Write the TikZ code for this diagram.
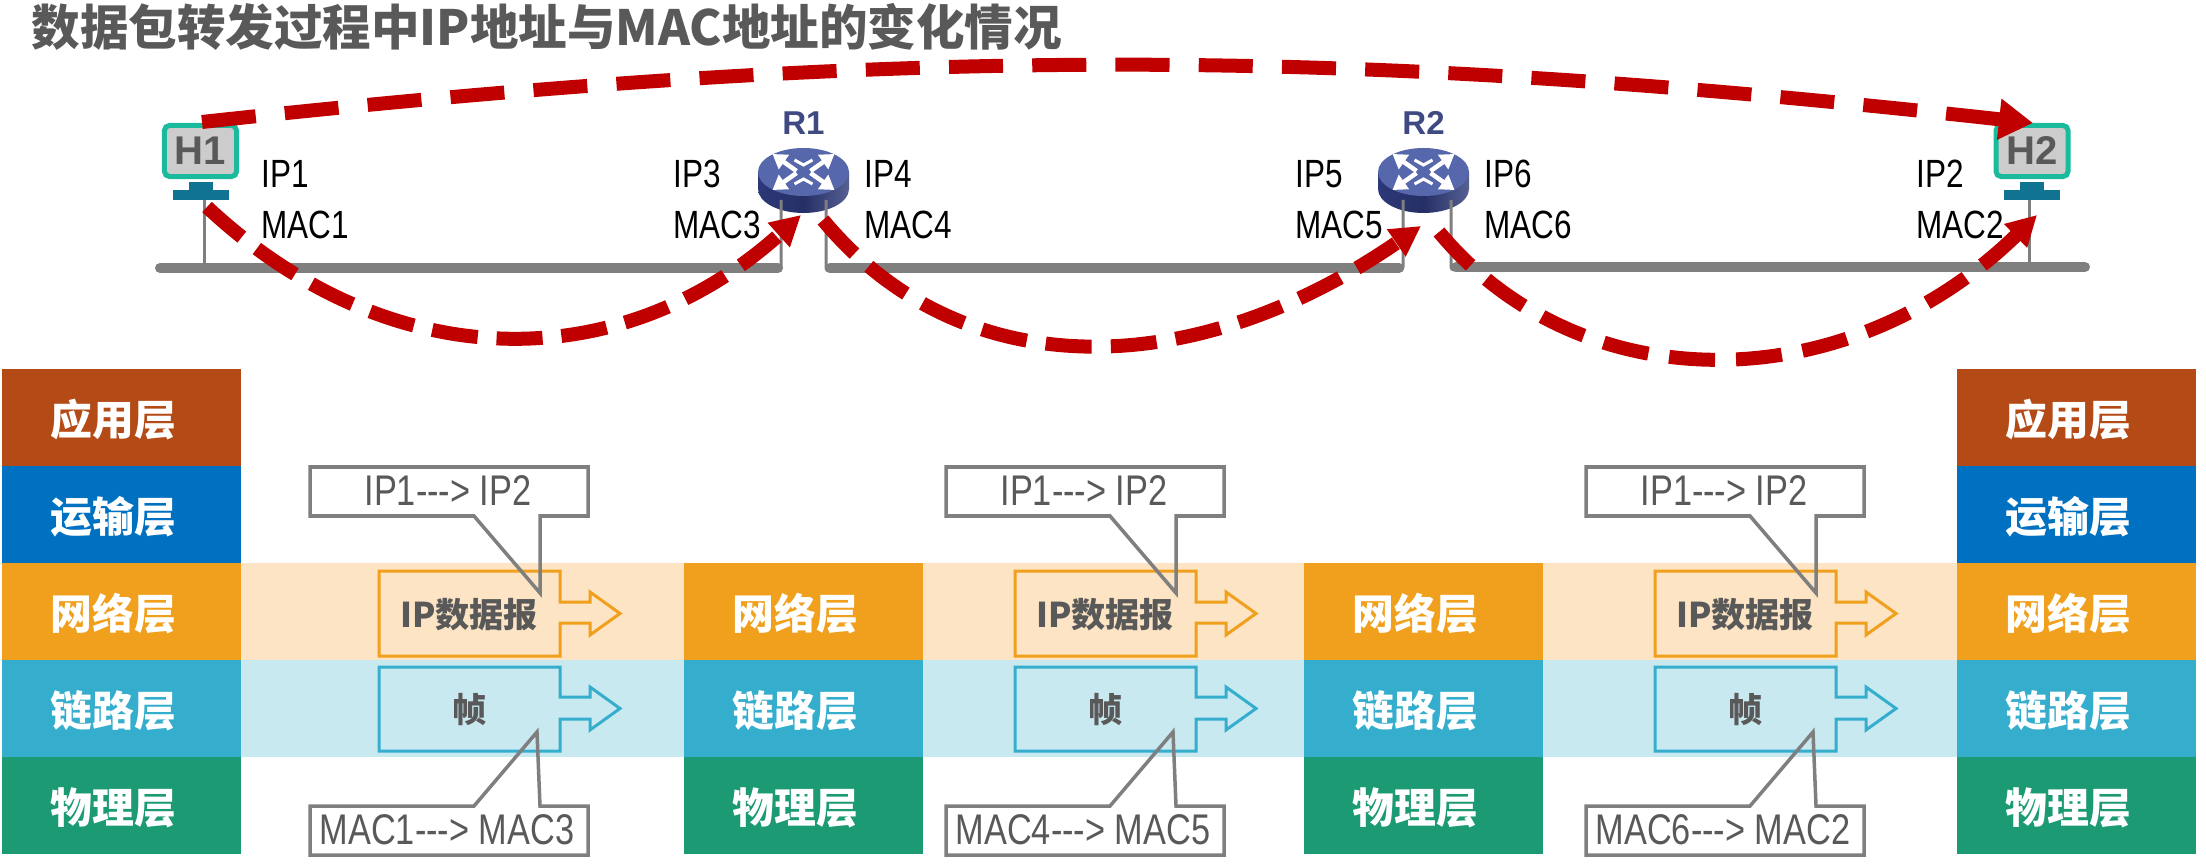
\documentclass[tikz,border=0pt]{standalone}
\usepackage{fontspec}
\usepackage{tikz}
\usetikzlibrary{arrows.meta,positioning}
\newfontfamily\cjkfont{Noto Sans CJK SC}
\newfontfamily\addrfont[FakeStretch=0.8]{Liberation Sans}
\newfontfamily\hostfont{Liberation Sans}
\definecolor{appcol}{HTML}{B44A16}
\definecolor{transcol}{HTML}{0070C0}
\definecolor{netcol}{HTML}{F0A01C}
\definecolor{linkcol}{HTML}{35AECE}
\definecolor{physcol}{HTML}{1C9A74}
\definecolor{netband}{HTML}{FCE4C4}
\definecolor{linkband}{HTML}{C9E9F1}
\definecolor{hostcol}{HTML}{1ABB9C}
\definecolor{footcol}{HTML}{0F7391}
\definecolor{routertop}{HTML}{5767AC}
\definecolor{routerside}{HTML}{2C3878}
\definecolor{routername}{HTML}{3F4A82}
\definecolor{pathcol}{HTML}{C00000}
\definecolor{tagcol}{HTML}{7F7F7F}
\definecolor{txtcol}{HTML}{595959}

\begin{document}
\begin{tikzpicture}[
  x=0.01cm, y=-0.01cm,
  node distance=0cm,
  layer/.style={rectangle, minimum width=2.39cm, minimum height=0.97cm, inner sep=0pt, outer sep=0pt, text=white,
    text height=0.35cm, text depth=0cm,
    font=\cjkfont\bfseries\fontsize{11.9pt}{12pt}\selectfont, execute at end node={\kern0.16cm}},
  host/.style={rectangle, rounded corners=0.05cm, draw=hostcol, line width=0.05cm, fill=black!20, inner sep=0pt,
    minimum width=0.72cm, minimum height=0.51cm, text=black!65, font=\hostfont\bfseries\fontsize{11.4pt}{12pt}\selectfont},
  rname/.style={text=routername, inner sep=0pt, font=\hostfont\bfseries\fontsize{9.4pt}{10pt}\selectfont},
  addr/.style={anchor=west, inner sep=0pt, font=\addrfont\fontsize{11.2pt}{12pt}\selectfont},
  tagtxt/.style={inner sep=0pt, text=txtcol, font=\addrfont\fontsize{12.2pt}{13pt}\selectfont},
  tagline/.style={draw=tagcol, line width=0.035cm, line join=miter},
  pdu/.style={line width=0.03cm, line join=miter},
  pdutxt/.style={inner sep=0pt, text=txtcol, font=\cjkfont\bfseries\fontsize{9.7pt}{10pt}\selectfont},
  wire/.style={draw=tagcol, line width=0.03cm, rounded corners=0.03cm},
  bus/.style={draw=tagcol, line width=0.1cm, line cap=round},
  hop/.style={draw=pathcol, line width=0.14cm, -{Triangle[length=0.3cm,width=0.31cm]}},
  longhop/.style={draw=pathcol, line width=0.14cm, -{Triangle[length=0.34cm,width=0.39cm]}}]
\useasboundingbox (0,0) rectangle (2206,864);

\node[anchor=north west, inner sep=0pt, text=txtcol, font=\cjkfont\bfseries\fontsize{13.8pt}{14pt}\selectfont] (title) at (31,3) {数据包转发过程中IP地址与MAC地址的变化情况};

% bands behind the stacks
\fill[netband] (241,563) rectangle (1957,660);
\fill[linkband] (241,660) rectangle (1957,757);

% stacks
\node[layer, fill=appcol, anchor=north west] (la) at (2,369) {应用层};
\node[layer, fill=transcol, below=of la] (lb) {运输层};
\node[layer, fill=netcol, below=of lb] (lc) {网络层};
\node[layer, fill=linkcol, below=of lc] (ld) {链路层};
\node[layer, fill=physcol, below=of ld] (le) {物理层};
\node[layer, fill=appcol, anchor=north west] (ra) at (1957,369) {应用层};
\node[layer, fill=transcol, below=of ra] (rb) {运输层};
\node[layer, fill=netcol, below=of rb] (rc) {网络层};
\node[layer, fill=linkcol, below=of rc] (rd) {链路层};
\node[layer, fill=physcol, below=of rd] (re) {物理层};
\foreach \s/\x in {m/684,n/1304} {
  \node[layer, fill=netcol, anchor=north west] (\s c) at (\x,563) {网络层};
  \node[layer, fill=linkcol, below=of \s c] (\s d) {链路层};
  \node[layer, fill=physcol, below=of \s d] (\s e) {物理层};
}

% buses and wires
\draw[bus] (160,268) -- (778,268);
\draw[bus] (830,268) -- (1399,268);
\draw[bus] (1456,267) -- (2085,267);

% routers
\foreach \r/\x in {R1/803.5,R2/1423.5} {
  \begin{scope}[shift={(\x,0)}]
    \path[left color=routerside, right color=routerside!80!white, middle color=routerside!85!black]
      (-45.5,172) -- (-45.5,189) arc[start angle=180, end angle=0, x radius=45.5, y radius=24] -- (45.5,172) -- cycle;
    \fill[routertop] (0,172) ellipse[x radius=45.5, y radius=24];
    \foreach \sx/\sy in {-1/-1,1/-1,-1/1,1/1}
      \draw[white, line width=0.045cm, -{Triangle[length=0.14cm,width=0.17cm]}] (\sx*7,172+\sy*1) -- (\sx*31,172+\sy*18);
    \draw[white, line width=0.03cm] (-9,160) -- (0,165) -- (9,160) (-9,184) -- (0,179) -- (9,184);
  \end{scope}
  \node[rname] (\r) at (\x,123) {\r};
}
\draw[wire] (781,200) -- (781,271) -- (770,271);
\draw[wire] (826,200) -- (826,271) -- (838,271);
\draw[wire] (1403,200) -- (1403,270) -- (1392,270);
\draw[wire] (1451,200) -- (1451,270) -- (1463,270);

% hosts
\foreach \h/\x in {H1/200.5, H2/2032} {
  \node[host] (\h) at (\x,151) {\h};
  \fill[footcol] (\x-12,182) rectangle (\x+12,191);
  \fill[footcol] (\x-28,190) rectangle (\x+28,200);
}
\draw[wire] (204,200) -- (204,265);
\draw[wire] (2029,200) -- (2029,262);

% addresses
\foreach \i/\x/\n in {ipa/261/1, ipb/673/3, ipc/864/4, ipd/1295/5, ipe/1484/6, ipf/1916/2} {
  \node[addr] (\i) at (\x,174) {IP\n};
  \node[addr] (\i m) at (\x,225) {MAC\n};
}

% pdus and tags
\foreach \s/\x/\a/\b/\c/\d in {a/0/1/3/1/2, b/636/4/5/1/2, c/1276/6/2/1/2} {
  \begin{scope}[shift={(\x,0)}]
    \draw[pdu, draw=netcol] (379,571) -- (560,571) -- (560,602) -- (590,602) -- (590,592) -- (620,613.5) -- (590,635) -- (590,623) -- (560,623) -- (560,656) -- (379,656) -- cycle;
    \draw[pdu, draw=linkcol] (379,667) -- (560,667) -- (560,697) -- (590,697) -- (590,687) -- (620,708.5) -- (590,730) -- (590,719) -- (560,719) -- (560,751) -- (379,751) -- cycle;
    \node[pdutxt] (ippkt\s) at (469,615) {IP数据报};
    \node[pdutxt] (frame\s) at (470,710) {帧};
    \draw[tagline] (474,516) -- (310,516) -- (310,467) -- (588,467) -- (588,516) -- (540,516) -- (540,593) -- cycle;
    \draw[tagline] (474,806) -- (310,806) -- (310,855) -- (588,855) -- (588,806) -- (540,806) -- (537,732) -- cycle;
    \node[tagtxt] (iptag\s) at (448,491) {IP\c-{}-{}-> IP\d};
    \node[tagtxt] (mactag\s) at (447,830) {MAC\a-{}-{}-> MAC\b};
  \end{scope}
}

% hops
\coordinate (hostout) at (202,122);
\coordinate (hostin) at (2033,123);
\coordinate (h1port) at (207,207);
\coordinate (r1in) at (801,215);
\coordinate (r1out) at (823,220);
\coordinate (r2in) at (1421,226);
\coordinate (r2out) at (1439,232);
\coordinate (h2port) at (2037,215);
\draw[longhop, dash pattern=on 0.54cm off 0.292cm] (hostout) .. controls (900,46) and (1335,46) .. (hostin);
\draw[hop, dash pattern=on 0.46cm off 0.189cm] (h1port) .. controls (390,378) and (620,378) .. (r1in);
\draw[hop, dash pattern=on 0.46cm off 0.192cm] (r1out) .. controls (960,385) and (1190,385) .. (r2in);
\draw[hop, dash pattern=on 0.46cm off 0.21cm] (r2out) .. controls (1580,402) and (1845,402) .. (h2port);
\end{tikzpicture}
\end{document}
